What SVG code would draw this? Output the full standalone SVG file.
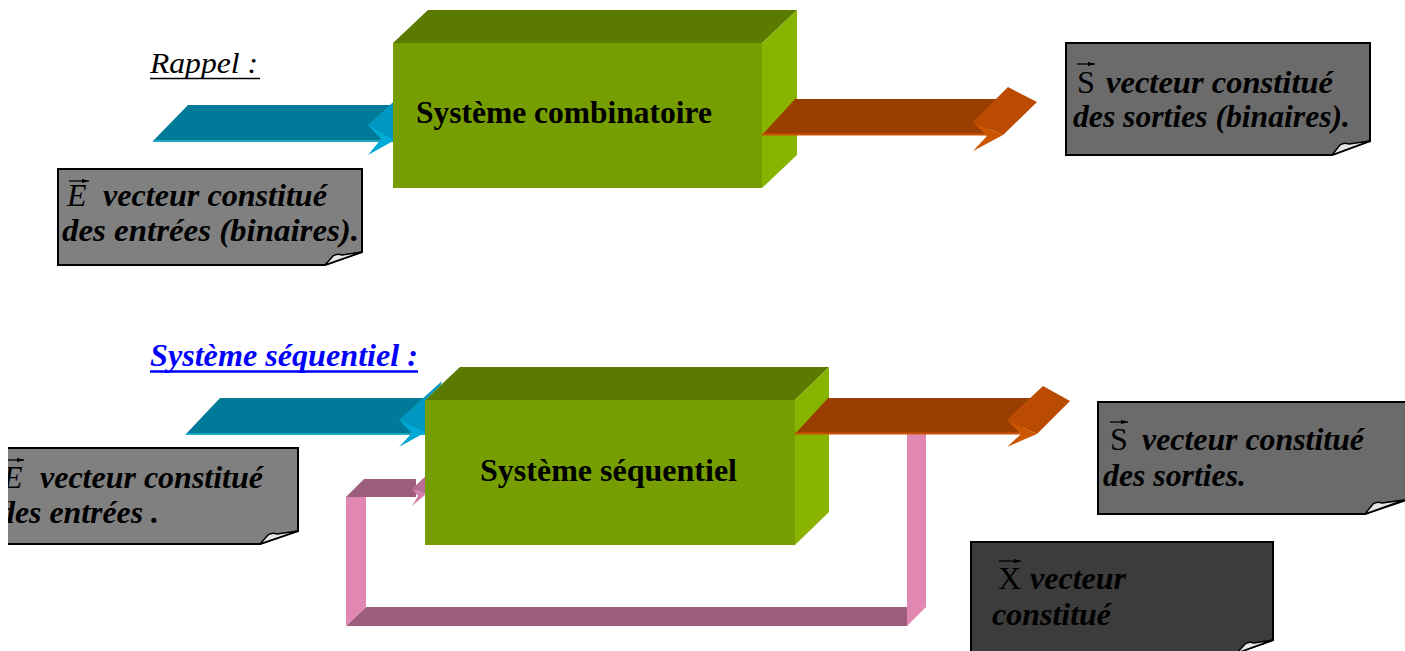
<svg xmlns="http://www.w3.org/2000/svg" width="1405" height="651" viewBox="0 0 1405 651">
<defs>
<style>
.note{stroke:#000;stroke-width:2}
.curl{fill:#e6e6e6;stroke:#000;stroke-width:1.5;stroke-linejoin:round}
.nt{font-family:"Liberation Serif","Times New Roman",serif;font-size:32px;font-weight:bold;font-style:italic;fill:#000}
.vl{font-family:"Liberation Serif","Times New Roman",serif;font-size:32px;fill:#000}
.vec{stroke:#000;stroke-width:1.3;marker-end:url(#vh)}
.lbl{font-family:"Liberation Serif","Times New Roman",serif;font-size:32px;font-weight:bold;fill:#000}
.front{fill:#779E00}
.top{fill:#5B7A00}
.side{fill:#88B400}
.bbody{fill:#007A99}
.bflap{fill:#0098C0}
.blow{fill:#00AAD6}
.obody{fill:#9A3E00}
.oflap{fill:#BB4B00}
.olow{fill:#CC5500}
.pfront{fill:#E088B2}
.ptop{fill:#9C5E7C}
</style>
<marker id="vh" viewBox="0 0 10 6" refX="10" refY="3" markerWidth="7" markerHeight="4.2" orient="auto" markerUnits="userSpaceOnUse">
<path d="M0,0 L10,3 L0,6 Z" fill="#000"/>
</marker>
<clipPath id="leftclip"><rect x="8" y="0" width="1397" height="651"/></clipPath>
<clipPath id="clipTop"><polygon points="0,0 428,0 428,10 393,43 393,300 0,300"/></clipPath>
<clipPath id="clipSeq"><polygon points="0,300 830,300 830,367 460,367 425,400 425,651 0,651"/></clipPath>
</defs>
<rect width="1405" height="651" fill="#fff"/>

<g id="title-rappel">
<text x="150" y="73" font-family="'Liberation Serif','Times New Roman',serif" font-size="30" font-style="italic" textLength="108" lengthAdjust="spacingAndGlyphs">Rappel :</text>
<line x1="150" y1="78.5" x2="260" y2="78.5" stroke="#000" stroke-width="1.5"/>
</g>

<g id="title-seq">
<text x="150" y="366" font-family="'Liberation Serif','Times New Roman',serif" font-size="32" font-weight="bold" font-style="italic" fill="#0000FF" textLength="268" lengthAdjust="spacingAndGlyphs">Système séquentiel :</text>
<line x1="150" y1="371.5" x2="418" y2="371.5" stroke="#0000FF" stroke-width="2.5"/>
</g>

<g id="box-combinatoire">
<polygon class="top" points="393,43 428,10 797,10 762,43"/>
<polygon class="side" points="762,43 797,10 797,155 762,188"/>
<rect class="front" x="393" y="43" width="369" height="145"/>
<text class="lbl" x="416" y="123" textLength="296" lengthAdjust="spacingAndGlyphs">Système combinatoire</text>
</g>

<g id="box-sequentiel">
<polygon class="top" points="425,400 460,367 829,367 795,400"/>
<polygon class="side" points="795,400 829,367 829,512 795,545"/>
<rect class="front" x="425" y="400" width="370" height="145"/>
<text class="lbl" x="480" y="481" textLength="257" lengthAdjust="spacingAndGlyphs">Système séquentiel</text>
</g>

<g id="connectors">
<g id="arrow-in-top" clip-path="url(#clipTop)">
<polygon class="bbody" points="153,141 188,105 395,105 395,141"/>
<line x1="153" y1="141" x2="393" y2="141" stroke="#22A6C6" stroke-width="2"/>
<polygon class="bflap" points="402,94 368,125 395,140"/>
<polygon class="blow" points="368,125 395,140 368,155 381,139"/>
</g>
<g id="arrow-out-top">
<polygon class="obody" points="762,135 795,99 1010,99 985,135"/>
<line x1="762" y1="134.5" x2="990" y2="134.5" stroke="#CC5200" stroke-width="2"/>
<polygon class="oflap" points="1008,87 1037,102 1003,135 973,122"/>
<polygon class="olow" points="973,122 1003,135 973,151 987,136"/>
</g>
<g id="arrow-in-seq" clip-path="url(#clipSeq)">
<polygon class="bbody" points="186,434 220,398 427,398 427,434"/>
<line x1="186" y1="434" x2="425" y2="434" stroke="#22A6C6" stroke-width="2"/>
<polygon class="bflap" points="442,381 399,420 426,432"/>
<polygon class="blow" points="399,420 426,432 399,447 412,433"/>
</g>
<g id="feedback">
<polygon class="pfront" points="907,434 926,434 926,607 907,626"/>
<polygon class="ptop" points="346,626 366,607 907,607 907,626"/>
<polygon class="pfront" points="346,497 366,497 366,607 346,626"/>
<g clip-path="url(#clipSeq)">
<polygon class="ptop" points="346,497 364,479 416,479 416,497"/>
<polygon fill="#B86C96" points="412,489 432,470 426,494"/>
<polygon fill="#D27EA8" points="412,489 426,494 412,506 418,496"/>
</g>
</g>
<g id="arrow-out-seq">
<polygon class="obody" points="795,434 828,398 1045,398 1018,434"/>
<line x1="795" y1="433.5" x2="1022" y2="433.5" stroke="#CC5200" stroke-width="2"/>
<polygon class="oflap" points="1043,386 1070,401 1037,434 1007,420"/>
<polygon class="olow" points="1007,420 1037,434 1007,447 1021,434"/>
</g>
</g>

<g id="note-E-top">
<path class="note" fill="#808080" d="M58,169 H362 V252 L325,265 H58 Z"/>
<path class="curl" d="M325,265 L333,256 Q337,253 342,255 L362,252 Z"/>
<text class="vl" x="67" y="206" font-style="italic">E</text>
<line class="vec" x1="69" y1="181" x2="89" y2="181"/>
<text class="nt" x="103" y="206" textLength="224" lengthAdjust="spacingAndGlyphs">vecteur constitué</text>
<text class="nt" x="62" y="241" textLength="297" lengthAdjust="spacingAndGlyphs">des entrées (binaires).</text>
</g>

<g id="note-S-top">
<path class="note" fill="#6B6B6B" d="M1066,43 H1370 V141 L1332,155 H1066 Z"/>
<path class="curl" d="M1332,155 L1340,145 Q1344,142 1349,144 L1370,141 Z"/>
<text class="vl" x="1077" y="93">S</text>
<line class="vec" x1="1077" y1="64" x2="1095" y2="64"/>
<text class="nt" x="1106" y="93" textLength="227" lengthAdjust="spacingAndGlyphs">vecteur constitué</text>
<text class="nt" x="1073" y="127" textLength="277" lengthAdjust="spacingAndGlyphs">des sorties (binaires).</text>
</g>

<g id="note-E-seq" clip-path="url(#leftclip)">
<path class="note" fill="#808080" d="M0,448 H298 V531 L260,544 H0 Z"/>
<path class="curl" d="M260,544 L268,535 Q272,532 277,534 L298,531 Z"/>
<text class="vl" x="3" y="488" font-style="italic">E</text>
<line class="vec" x1="5" y1="460" x2="24" y2="460"/>
<text class="nt" x="40" y="488" textLength="223" lengthAdjust="spacingAndGlyphs">vecteur constitué</text>
<text class="nt" x="-1" y="523" textLength="160" lengthAdjust="spacingAndGlyphs">des entrées .</text>
</g>

<g id="note-S-seq">
<path class="note" fill="#6B6B6B" d="M1098,402 H1406 V500 L1365,514 H1098 Z"/>
<path class="curl" d="M1365,514 L1373,504 Q1377,501 1382,503 L1404,500 Z"/>
<text class="vl" x="1110" y="450">S</text>
<line class="vec" x1="1110" y1="422" x2="1128" y2="422"/>
<text class="nt" x="1142" y="450" textLength="222" lengthAdjust="spacingAndGlyphs">vecteur constitué</text>
<text class="nt" x="1103" y="486" textLength="143" lengthAdjust="spacingAndGlyphs">des sorties.</text>
</g>

<g id="note-X">
<path class="note" fill="#3C3C3C" d="M971,542 H1273 V640 L1237,653 H971 Z"/>
<path class="curl" d="M1237,653 L1245,644 Q1249,641 1254,643 L1273,640 Z"/>
<text class="vl" x="998" y="589">X</text>
<line class="vec" x1="999" y1="561" x2="1021" y2="561"/>
<text class="nt" x="1030" y="589" textLength="96" lengthAdjust="spacingAndGlyphs">vecteur</text>
<text class="nt" x="992" y="625" textLength="119" lengthAdjust="spacingAndGlyphs">constitué</text>
</g>
</svg>
